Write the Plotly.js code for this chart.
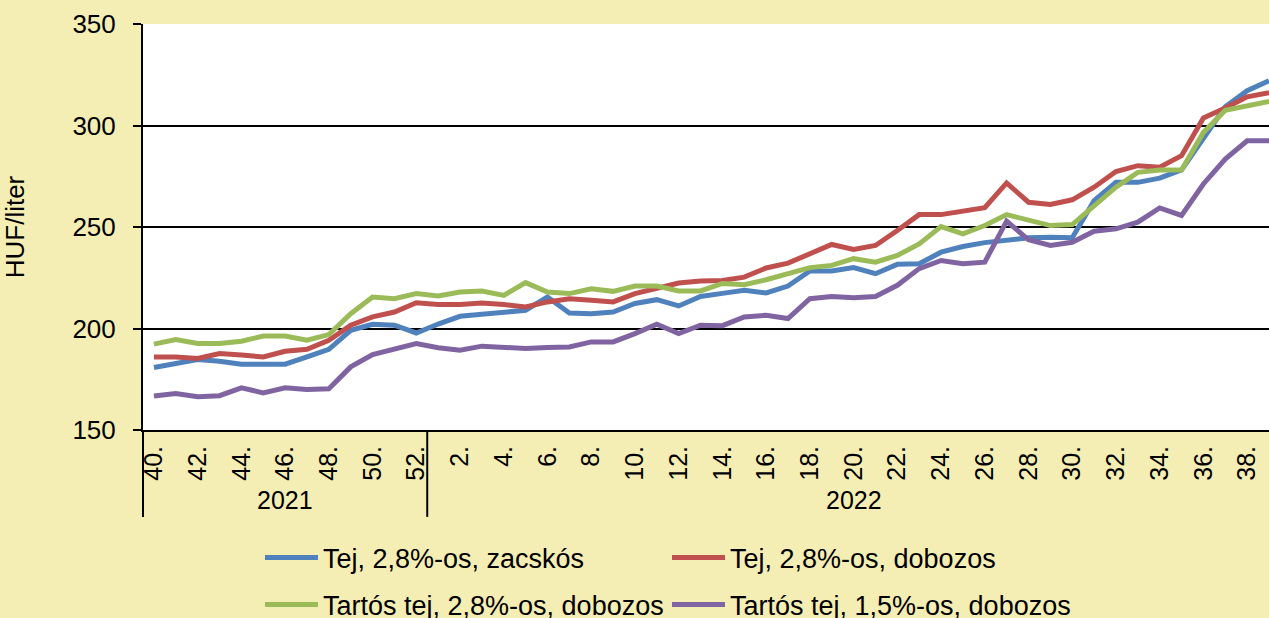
<!DOCTYPE html>
<html>
<head>
<meta charset="utf-8">
<script src="https://cdn.plot.ly/plotly-3.0.1.min.js"></script>
<style>
  html, body { margin: 0; padding: 0; background: #F4EEB4; }
  #chart { width: 1269px; height: 618px; }
</style>
</head>
<body>
<div id="chart"></div>
<script>
// ---- Data ----
const weeks2021 = [40, 41, 42, 43, 44, 45, 46, 47, 48, 49, 50, 51, 52];
const weeks2022 = [1, 2, 3, 4, 5, 6, 7, 8, 9, 10, 11, 12, 13, 14, 15, 16, 17, 18, 19, 20,
                   21, 22, 23, 24, 25, 26, 27, 28, 29, 30, 31, 32, 33, 34, 35, 36, 37, 38, 39];
const years = ["2021", "2022"];

const tejZacskos = [180.8, 182.8, 184.7, 183.9, 182.4, 182.4, 182.4, 186.0, 189.7, 199.1, 202.1, 201.6, 197.8,
  202.2, 206.0, 207.0, 208.1, 209.0, 215.5, 207.6, 207.3, 208.1, 212.3, 214.2, 211.1, 215.8, 217.3, 218.8, 217.5,
  220.9, 228.3, 228.3, 230.0, 227.0, 231.6, 231.9, 237.6, 240.4, 242.3, 243.7, 244.7, 245.0, 244.7, 263.0, 272.0,
  272.0, 274.1, 278.1, 294.1, 309.2, 317.1, 322.0];
const tejDobozos = [186.0, 186.0, 185.2, 187.7, 186.9, 186.0, 188.8, 189.8, 194.2, 201.6, 205.7, 208.1, 212.7,
  211.8, 211.8, 212.6, 211.8, 210.6, 213.1, 214.7, 213.9, 213.1, 217.2, 219.6, 222.4, 223.4, 223.7, 225.3, 229.8,
  232.2, 237.1, 241.4, 238.9, 240.9, 248.3, 256.1, 256.1, 258.1, 259.5, 271.7, 262.2, 261.1, 263.4, 269.6, 277.3,
  280.2, 279.4, 285.1, 303.7, 308.6, 314.1, 316.2];
const tartos28 = [192.3, 194.6, 192.6, 192.6, 193.7, 196.3, 196.3, 194.2, 197.0, 207.3, 215.5, 214.7, 217.2,
  216.0, 218.0, 218.5, 216.3, 222.6, 218.0, 217.2, 219.6, 218.3, 220.9, 220.9, 218.5, 218.5, 222.2, 221.6, 224.0,
  226.7, 230.0, 231.1, 234.4, 232.7, 236.0, 241.7, 250.2, 246.6, 250.7, 256.1, 253.2, 250.7, 251.2, 260.6, 269.6,
  276.9, 278.1, 278.1, 296.6, 307.5, 309.7, 311.8];
const tartos15 = [166.7, 168.0, 166.4, 166.9, 170.8, 168.3, 170.8, 170.0, 170.3, 181.1, 187.2, 189.7, 192.6,
  190.5, 189.3, 191.3, 190.9, 190.1, 190.6, 190.9, 193.4, 193.4, 197.5, 202.1, 197.5, 201.6, 201.4, 205.7, 206.5,
  204.9, 214.7, 215.8, 215.2, 215.8, 221.3, 229.5, 233.5, 231.9, 232.7, 252.9, 243.7, 240.9, 242.5, 247.9, 249.1,
  252.4, 259.4, 255.7, 271.2, 283.5, 292.5, 292.5];

const seriesNames = ["Tej, 2,8%-os, zacskós", "Tej, 2,8%-os, dobozos",
                     "Tartós tej, 2,8%-os, dobozos", "Tartós tej, 1,5%-os, dobozos"];
const seriesColors = ["#4F81BD", "#C0504D", "#9BBB59", "#8064A2"];
const yTitle = "HUF/liter";

// ---- Build ----
const weeks = weeks2021.concat(weeks2022);
const cats = weeks.map(w => w + ".");
const tickVals = cats.filter((c, i) => weeks[i] % 2 === 0);
const FONT = "Liberation Sans, Arial, sans-serif";

const allSeries = [tejZacskos, tejDobozos, tartos28, tartos15];
const traces = allSeries.map((ys, k) => ({
  type: "scatter", mode: "lines",
  x: cats, y: ys, name: seriesNames[k],
  line: { color: seriesColors[k], width: 5 },
  legend: k < 2 ? "legend" : "legend2",
  hoverinfo: "skip"
}));

const xr = [-0.5, cats.length - 1];
const toPaper = v => (v - xr[0]) / (xr[1] - xr[0]);
const boundary = weeks2021.length - 0.5;
const divBottom = -0.214;

const shapes = [-0.5, boundary].map(b => ({
  type: "line", xref: "paper", yref: "paper",
  x0: toPaper(b), x1: toPaper(b), y0: 0, y1: divBottom,
  line: { color: "#000", width: 2 }
}));

const annotations = [
  { text: years[0], x: (weeks2021.length - 1) / 2 },
  { text: years[1], x: weeks2021.length + (weeks2022.length - 1) / 2 }
].map(a => ({
  text: a.text, xref: "x", yref: "paper", x: a.x, y: -0.172,
  showarrow: false, xanchor: "center", yanchor: "middle",
  font: { family: FONT, size: 25, color: "#000" }
}));

const legendCommon = {
  orientation: "h", xref: "container", yref: "container",
  xanchor: "left", yanchor: "middle",
  bgcolor: "rgba(0,0,0,0)", borderwidth: 0,
  font: { family: FONT, size: 27, color: "#000" },
  entrywidth: 339, entrywidthmode: "pixels",
  itemwidth: 53
};

const layout = {
  width: 1269, height: 618,
  paper_bgcolor: "#F4EEB4", plot_bgcolor: "#FFFFFF",
  margin: { l: 143, r: 0, t: 24, b: 188 },
  font: { family: FONT, size: 25, color: "#000" },
  showlegend: true,
  legend: Object.assign({}, legendCommon, { x: 260 / 1269, y: 1 - 558 / 618 }),
  legend2: Object.assign({}, legendCommon, { x: 260 / 1269, y: 1 - 605 / 618 }),
  xaxis: {
    type: "category", categoryorder: "array", categoryarray: cats,
    range: xr, tickvals: tickVals, ticktext: tickVals,
    tickangle: -90, ticks: "", showgrid: false,
    showline: true, linecolor: "#000", linewidth: 2,
    tickfont: { family: FONT, size: 25, color: "#000" },
    ticklabelstandoff: 4, zeroline: false
  },
  yaxis: {
    range: [150, 350], dtick: 50, tick0: 150,
    showgrid: true, gridcolor: "#000", gridwidth: 2,
    showline: true, linecolor: "#000", linewidth: 2,
    ticks: "outside", ticklen: 8, tickwidth: 2, tickcolor: "#000",
    tickfont: { family: FONT, size: 26, color: "#000" },
    ticklabelstandoff: 12, zeroline: false,
    title: { text: yTitle, font: { family: FONT, size: 26, color: "#000" }, standoff: 44 }
  },
  shapes: shapes,
  annotations: annotations
};

Plotly.newPlot("chart", traces, layout, { staticPlot: true, displayModeBar: false });
</script>
</body>
</html>
